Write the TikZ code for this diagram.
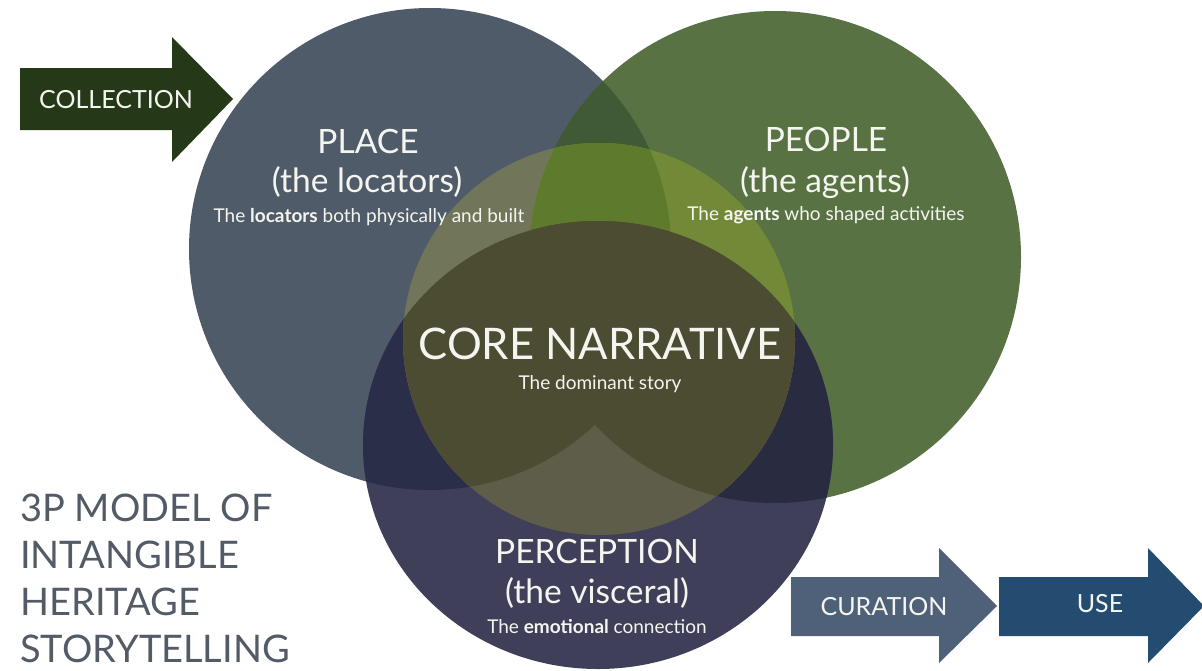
\documentclass[tikz,border=0pt]{standalone}
\usepackage{fontspec}
\setmainfont{Lato}
\begin{document}
\begin{tikzpicture}[x=1pt,y=-1pt]
  % palette
  \definecolor{cPlace}{HTML}{505B6A}
  \definecolor{cPeople}{HTML}{587244}
  \definecolor{cPlPe}{HTML}{3F5A34}
  \definecolor{cPerc}{HTML}{403F59}
  \definecolor{cPcPl}{HTML}{2B2E48}
  \definecolor{cPcPe}{HTML}{292C40}
  \definecolor{cCoPl}{HTML}{71755A}
  \definecolor{cCoPe}{HTML}{728A37}
  \definecolor{cCoPlPe}{HTML}{5E7A2C}
  \definecolor{cCoPc}{HTML}{5E5D49}
  \definecolor{cCoPcX}{HTML}{4B4C32}
  \definecolor{cTitle}{HTML}{535B67}
  \definecolor{cColl}{HTML}{253818}
  \definecolor{cCur}{HTML}{4F6079}
  \definecolor{cUse}{HTML}{244C71}
  \definecolor{cText}{HTML}{F5F5F0}
  \tikzset{
    head/.style={text=cText, font=\fontsize{33.5}{40}\selectfont, anchor=base},
    sub/.style={text=cText, font=\fontsize{19}{22}\selectfont, anchor=base},
    core/.style={text=cText, font=\fontsize{43.5}{50}\selectfont, anchor=base},
    arrowtext/.style={text=cText, font=\fontsize{25}{30}\selectfont, anchor=base},
    title/.style={text=cTitle, font=\fontsize{38}{44}\selectfont, anchor=base west, inner sep=0pt},
  }
  \useasboundingbox (0,0) rectangle (1202,670);
  \fill[white] (0,0) rectangle (1202,670);

  % circle centres
  \coordinate (pl) at (430,249);
  \coordinate (pe) at (775,257);
  \coordinate (pc) at (598,445);
  \coordinate (co) at (599,339);

  % place and people
  \fill[cPlace] (pl) circle [radius=241pt];
  \fill[cPeople] (pe) circle [radius=246pt];
  \begin{scope}
    \clip (pl) circle [radius=241pt];
    \fill[cPlPe] (pe) circle [radius=246pt];
  \end{scope}

  % perception
  \fill[cPerc] (pc) ellipse [x radius=235pt, y radius=224pt];
  \begin{scope}
    \clip (pc) ellipse [x radius=235pt, y radius=224pt];
    \fill[cPcPl] (pl) circle [radius=241pt];
    \fill[cPcPe] (pe) circle [radius=246pt];
  \end{scope}

  % core narrative
  \begin{scope}
    \clip (co) circle [radius=196pt];
    \fill[cCoPl] (pl) circle [radius=241pt];
    \fill[cCoPe] (pe) circle [radius=246pt];
    \begin{scope}
      \clip (pl) circle [radius=241pt];
      \fill[cCoPlPe] (pe) circle [radius=246pt];
    \end{scope}
    \fill[cCoPc] (pc) ellipse [x radius=235pt, y radius=224pt];
    \begin{scope}
      \clip (pc) ellipse [x radius=235pt, y radius=224pt];
      \fill[cCoPcX] (pl) circle [radius=241pt];
      \fill[cCoPcX] (pe) circle [radius=246pt];
    \end{scope}
  \end{scope}

  % circle labels
  \node[head] (placeT) at (368,153) {PLACE};
  \node[head] (placeP) at (367,192) {(the locators)};
  \node[sub]  (placeS) at (369,222) {The \textbf{locators} both physically and built};

  \node[head] (peopleT) at (826,151) {PEOPLE};
  \node[head] (peopleP) at (825,192) {(the agents)};
  \node[sub]  (peopleS) at (826,220) {The \textbf{agents} who shaped activities};

  \node[core] (coreT) at (600,359) {CORE NARRATIVE};
  \node[sub]  (coreS) at (600,389) {The dominant story};

  \node[head] (percT) at (597,563) {PERCEPTION};
  \node[head] (percP) at (597,603) {(the visceral)};
  \node[sub]  (percS) at (597,633) {The \textbf{emotional} connection};

  % process arrows
  \fill[cColl] (20,68) -- (172,68) -- (172,37) -- (233,99) -- (172,162) -- (172,130) -- (20,130) -- cycle;
  \node[arrowtext] (coll) at (116,108) {COLLECTION};

  \fill[cCur] (791,577) -- (939,577) -- (939,548) -- (997,606) -- (939,663) -- (939,636) -- (791,636) -- cycle;
  \node[arrowtext] (cur) at (884,615) {CURATION};

  \fill[cUse] (999,577) -- (1148,577) -- (1148,548) -- (1204,606) -- (1148,663) -- (1148,636) -- (999,636) -- cycle;
  \node[arrowtext] (use) at (1100,612) {USE};

  % model title
  \node[title] (t1) at (20,521) {3P MODEL OF};
  \node[title] (t2) at (20,568) {INTANGIBLE};
  \node[title] (t3) at (20,615) {HERITAGE};
  \node[title] (t4) at (20,662) {STORYTELLING};
\end{tikzpicture}
\end{document}
